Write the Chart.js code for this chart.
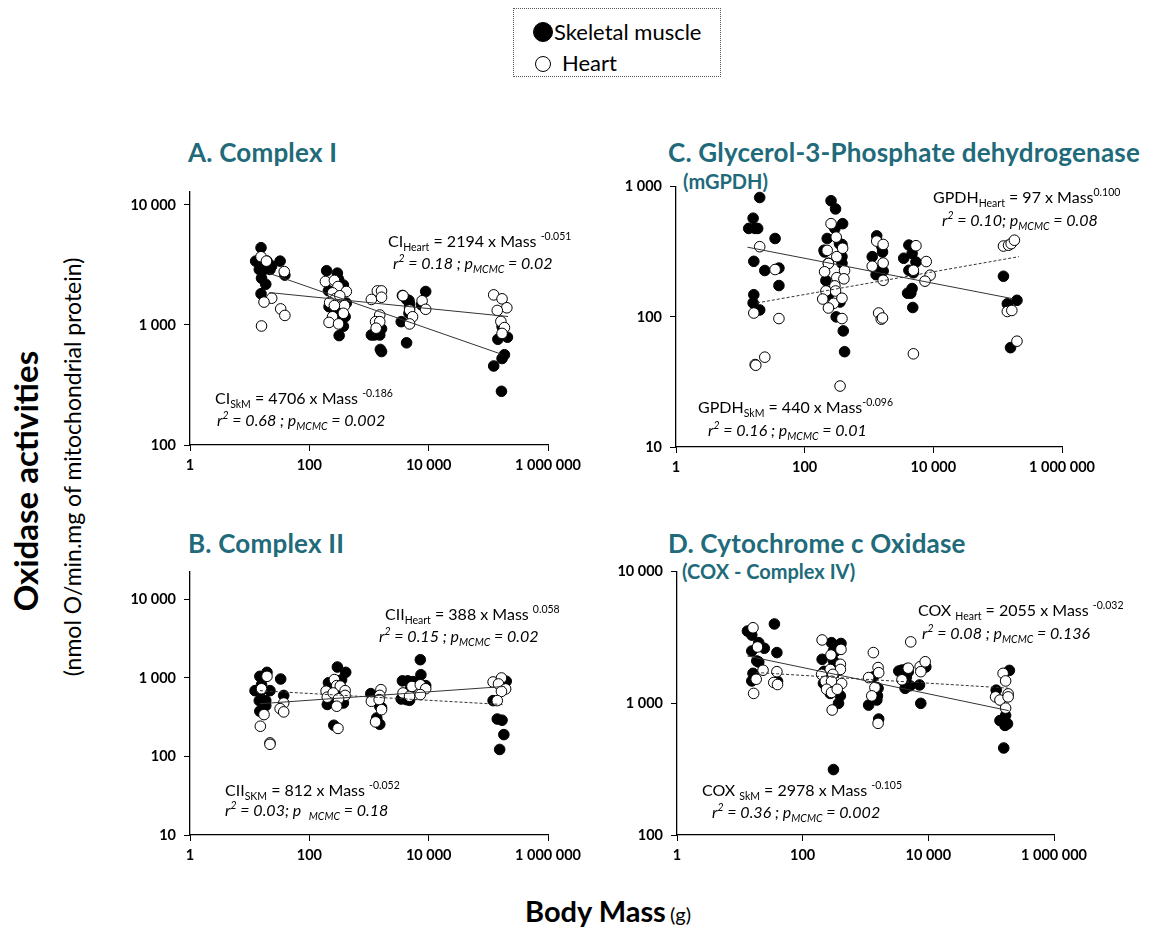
<!DOCTYPE html>
<html>
<head>
<meta charset="utf-8">
<script src="https://cdn.jsdelivr.net/npm/chart.js@4.4.1/dist/chart.umd.min.js"></script>
<style>
    body { margin: 0; background: #fff; width: 1157px; height: 934px; position: relative; overflow: hidden; font-family: Lato, 'Open Sans', sans-serif; color: #000; }
    canvas { position: absolute; }
    .t { position: absolute; white-space: nowrap; line-height: 22px; }
    .title { color: #216a7a; font-weight: bold; font-size: 26px; letter-spacing: 0.2px; line-height: 24px; }
    .subtitle { color: #216a7a; font-weight: bold; font-size: 20px; }
    .eq { font-size: 16px; }
    .eq sub, .eq sup { font-size: 10.5px; line-height: 0; }
    .eq sub { vertical-align: -4px; }
    .eq sup { vertical-align: 7px; }
    .it { font-style: italic; }
    .rot { position: absolute; white-space: nowrap; transform: translate(-50%, -50%) rotate(-90deg); }
    .legend { position: absolute; left: 513px; top: 8px; width: 206px; height: 67px; border: 1px dotted #555; font-size: 22px; }
    .dot { position: absolute; border-radius: 50%; border: 1px solid #000; box-sizing: border-box; }
</style>
</head>
<body>

<div class="legend">
    <span class="dot" style="left:19px;top:13px;width:20px;height:20px;background:#000"></span>
    <span class="t" style="left:40px;top:11px;line-height:24px">Skeletal muscle</span>
    <span class="dot" style="left:21px;top:47px;width:16px;height:16px;background:#fff"></span>
    <span class="t" style="left:48px;top:42px;line-height:24px">Heart</span>
</div>

<div class="rot" style="left:25px;top:481px;font-size:33px;font-weight:bold">Oxidase activities</div>
<div class="rot" style="left:72px;top:467px;font-size:23px">(nmol O/min.mg of mitochondrial protein)</div>
<div class="t" style="left:525px;top:893px;line-height:36px"><b style="font-size:29px">Body Mass</b> <span style="font-size:20px">(g)</span></div>

<div class="t title" style="left:188px;top:140px">A. Complex I</div>
<div class="t title" style="left:188px;top:531px">B. Complex II</div>
<div class="t title" style="left:668px;top:140px">C. Glycerol-3-Phosphate dehydrogenase</div>
<div class="t subtitle" style="left:683px;top:170px">(mGPDH)</div>
<div class="t title" style="left:668px;top:531px">D. Cytochrome c Oxidase</div>
<div class="t subtitle" style="left:682px;top:560px">(COX - Complex IV)</div>

<canvas id="chartA"></canvas>
<canvas id="chartB"></canvas>
<canvas id="chartC"></canvas>
<canvas id="chartD"></canvas>

<div class="t eq" style="left:388px;top:230px">CI<sub>Heart</sub> = 2194 x Mass <sup>-0.051</sup></div>
<div class="t eq it" style="left:393px;top:252px">r<sup>2</sup> = 0.18 ; p<sub>MCMC</sub> = 0.02</div>
<div class="t eq" style="left:215px;top:387px">CI<sub>SkM</sub> = 4706 x Mass <sup>-0.186</sup></div>
<div class="t eq it" style="left:217px;top:409px">r<sup>2</sup> = 0.68 ; p<sub>MCMC</sub> = 0.002</div>

<div class="t eq" style="left:385px;top:603px">CII<sub>Heart</sub> = 388 x Mass <sup>0.058</sup></div>
<div class="t eq it" style="left:379px;top:625px">r<sup>2</sup> = 0.15 ; p<sub>MCMC</sub> = 0.02</div>
<div class="t eq" style="left:225px;top:779px">CII<sub>SKM</sub> = 812 x Mass <sup>-0.052</sup></div>
<div class="t eq it" style="left:225px;top:799px">r<sup>2</sup> = 0.03; p &nbsp;<sub>MCMC</sub> = 0.18</div>

<div class="t eq" style="left:933px;top:186px">GPDH<sub>Heart</sub> = 97 x Mass<sup>0.100</sup></div>
<div class="t eq it" style="left:942px;top:209px">r<sup>2</sup> = 0.10; p<sub>MCMC</sub> = 0.08</div>
<div class="t eq" style="left:698px;top:396px">GPDH<sub>SkM</sub> = 440 x Mass<sup>-0.096</sup></div>
<div class="t eq it" style="left:708px;top:419px">r<sup>2</sup> = 0.16 ; p<sub>MCMC</sub> = 0.01</div>

<div class="t eq" style="left:918px;top:599px">COX <sub>Heart</sub> = 2055 x Mass <sup>-0.032</sup></div>
<div class="t eq it" style="left:922px;top:622px">r<sup>2</sup> = 0.08 ; p<sub>MCMC</sub> = 0.136</div>
<div class="t eq" style="left:702px;top:779px">COX <sub>SkM</sub> = 2978 x Mass <sup>-0.105</sup></div>
<div class="t eq it" style="left:712px;top:801px">r<sup>2</sup> = 0.36 ; p<sub>MCMC</sub> = 0.002</div>

<script>
// [body mass (g), activity]
const skmA = [
    [15.5, 4400], [12.6, 3400], [15.8, 3400], [19.5, 3400], [14.5, 2900], [17.4, 2900], [21.9, 2900],
    [23.4, 3100], [32.4, 3400], [15.8, 2450], [18.6, 2180], [15.5, 1820], [38.9, 2600],
    [195, 2830], [295, 2700], [309, 2400], [209, 1930], [372, 2150], [417, 1520], [214, 1420],
    [269, 1330], [324, 1330], [398, 1170], [295, 1170], [372, 975], [316, 815], [251, 1620],
    [1622, 930], [1318, 850], [1096, 825], [1514, 825], [1549, 625], [1622, 600], [1230, 825],
    [3631, 1760], [4266, 1630], [4677, 1600], [4786, 1500], [4786, 1390], [4677, 1250],
    [8913, 1900], [7586, 1470], [3467, 1065], [4266, 710],
    [144540, 760], [208930, 790], [186210, 565], [169820, 525], [123030, 455], [165960, 280], [169820, 970]
];
const heartA = [
    [15.5, 3700], [19.1, 3400], [38, 2780], [23.4, 1670], [17.4, 1550], [33.1, 1360], [38.9, 1200], [15.8, 980],
    [186, 2300], [263, 2350], [302, 2090], [417, 1900], [245, 1850], [275, 1660], [324, 1750], [219, 1540],
    [389, 1450], [263, 1450], [245, 1170], [214, 1050], [309, 1020], [372, 1250],
    [1380, 1920], [1622, 1920], [1096, 1630], [1622, 1700], [1514, 1210], [1288, 1065], [1514, 1065], [1318, 940],
    [3715, 1750], [4786, 1330], [5370, 1170], [4786, 1020], [7762, 1590], [8913, 1350],
    [123030, 1780], [169820, 1650], [204170, 1390], [141250, 1320], [162180, 1070], [186210, 950], [169820, 850]
];
const fitSkmA = [[21.4, 2690], [158490, 575]];
const fitHeartA = [[21.4, 1860], [213800, 1175]];

const skmB = [
    [14.8, 1050], [19.5, 1180], [15.8, 823], [12.3, 690], [15.5, 690], [21.9, 690], [14.5, 515], [18.6, 515],
    [18.6, 445], [14.8, 378], [33.1, 970], [37.2, 600],
    [295, 1380], [407, 1180], [209, 870], [251, 870], [302, 900], [347, 950], [372, 645], [200, 460],
    [288, 500], [372, 480], [257, 250],
    [1072, 632], [1380, 560], [1514, 436], [1349, 310], [1349, 280], [1514, 257], [1622, 420],
    [3631, 920], [4467, 920], [5495, 900], [3467, 540], [4266, 530], [4786, 520], [7413, 1100], [7244, 1710],
    [8913, 800], [5012, 745],
    [199530, 910], [120230, 515], [141250, 300], [169820, 290], [181970, 190], [154880, 123]
];
const heartB = [
    [19.5, 1050], [15.8, 730], [37.2, 480], [32.4, 407], [37.2, 370], [17.4, 342], [15.1, 243], [21.9, 149], [21.9, 143],
    [263, 955], [191, 680], [200, 570], [288, 800], [330, 790], [251, 645], [398, 690], [398, 600], [309, 545],
    [288, 437], [302, 228],
    [1585, 710], [1096, 505], [1514, 600], [1480, 530], [1622, 395], [1288, 276],
    [3715, 645], [4786, 585], [5248, 780], [7244, 820], [8913, 730], [7244, 615],
    [120230, 890], [165960, 1000], [147910, 840], [194980, 725], [165960, 675], [141250, 515]
];
const fitSkmB = [[14.8, 690], [186210, 458]];
const fitHeartB = [[14.8, 470], [186210, 780]];

const skmC = [
    [20, 826], [15.8, 573], [13.5, 478], [17, 478], [18.6, 478], [34.7, 400], [16.2, 267], [24, 227], [39.8, 237],
    [39.8, 174], [16.2, 148], [15.8, 128], [20, 113],
    [257, 780], [302, 675], [389, 520], [295, 478], [224, 400], [347, 365], [380, 360], [200, 325], [204, 315],
    [380, 290], [234, 258], [380, 258], [214, 190], [234, 147], [355, 130], [309, 100], [398, 78], [417, 54],
    [1318, 419], [1585, 346], [1622, 315], [1122, 290], [1585, 230], [1660, 225], [1288, 211],
    [4169, 356], [3467, 282], [4677, 307], [5370, 264], [4169, 228], [4898, 218], [3981, 152], [4467, 152],
    [4677, 165], [4786, 118],
    [123030, 205], [141250, 126], [199530, 134], [158490, 58]
];
const heartC = [
    [20, 346], [34.7, 231], [16.2, 107], [39.8, 97], [17, 43], [17.4, 42.5], [24, 49],
    [257, 520], [309, 410], [224, 324], [316, 290], [389, 337], [234, 257], [204, 222], [417, 227], [316, 200],
    [407, 196], [295, 173], [214, 158], [302, 158], [191, 137], [282, 127], [234, 117], [380, 139], [380, 97], [355, 29.4],
    [1318, 382], [1660, 360], [1660, 259], [1122, 245], [1660, 191], [1413, 107], [1549, 96], [1622, 98],
    [5370, 352], [4898, 228], [7762, 266], [8913, 209], [7413, 188], [4898, 52],
    [123030, 350], [147910, 355], [162180, 365], [181970, 388], [141250, 110], [165960, 112], [199530, 65]
];
const fitSkmC = [[12.9, 343], [169820, 138]];
const fitHeartC = [[18.2, 128], [213800, 290]];

const skmD = [
    [13.2, 3540], [15.5, 3300], [35.5, 4010], [20, 2890], [24.5, 2620], [15.5, 2500], [38.9, 2430], [18.6, 2100],
    [20, 2060], [16.2, 1690], [15.5, 1480], [39.8, 1470],
    [288, 2890], [407, 2850], [309, 2500], [330, 2480], [204, 2160], [309, 2100], [219, 1750], [234, 1720],
    [330, 1720], [214, 1420], [257, 1400], [347, 1280], [275, 1190], [398, 1140], [372, 1000], [309, 314],
    [1334, 1590], [1514, 1320], [1585, 1300], [1549, 1140], [1514, 1060], [1122, 970], [1622, 760],
    [3388, 1760], [3802, 1790], [4467, 1820], [4786, 1730], [4266, 1600], [4467, 1580], [5129, 1360], [4266, 1300],
    [7244, 1380], [9120, 1890], [7586, 1000],
    [194980, 1780], [120230, 1260], [169820, 810], [138040, 740], [181970, 700], [165960, 680], [158490, 458]
];
const heartD = [
    [16.2, 3750], [19.1, 2680], [23.4, 1785], [38.9, 1740], [18.2, 1525], [34.7, 1440], [39.8, 1390], [16.6, 1190],
    [204, 3030], [282, 2330], [407, 2570], [398, 1980], [398, 1810], [275, 1810], [200, 1660], [302, 1660],
    [229, 1470], [288, 1470], [417, 1415], [240, 1280], [288, 1210], [355, 1280], [295, 890],
    [1334, 2430], [1585, 1870], [1622, 1710], [1122, 1570], [1413, 1320], [1259, 1140], [1585, 705],
    [5248, 2930], [3802, 1510], [4786, 1850], [7413, 1900], [7586, 1740], [8913, 2070],
    [154880, 1690], [169820, 1480], [117490, 1120], [138040, 1060], [186210, 1180], [186210, 1120], [169820, 920]
];
const fitSkmD = [[13.2, 2290], [190550, 880]];
const fitHeartD = [[18.2, 1715], [186210, 1305]];

const massTicks = [1, 100, 10000, 1000000];
const fmt = v => String(v).replace(/\B(?=(\d{3})+(?!\d))/g, ' ');

const points = (data, fill, order) => ({
    data: data.map(([x, y]) => ({ x, y })),
    pointRadius: 5.3,
    pointBackgroundColor: fill,
    pointBorderColor: '#000',
    pointBorderWidth: 1,
    showLine: false,
    order
});

const fitLine = (data, dashed) => ({
    data: data.map(([x, y]) => ({ x, y })),
    showLine: true,
    borderColor: '#333',
    borderWidth: 1,
    borderDash: dashed ? [3, 2] : [],
    pointRadius: 0,
    fill: false,
    order: 0
});

const axisStyle = {
    grid: { drawOnChartArea: false, tickLength: 6, color: '#000', lineWidth: 1 },
    border: { color: '#000', width: 1.3 }
};
const tickFont = { family: 'Lato', size: 14.5, weight: 'bold' };

function makePanel(id, box, area, yMin, yMax, yTicks, skm, heart, fitSkm, fitHeart, skmDashed, heartDashed) {
    const cv = document.getElementById(id);
    cv.width = box.w;
    cv.height = box.h;
    cv.style.left = box.x + 'px';
    cv.style.top = box.y + 'px';

    new Chart(cv.getContext('2d'), {
        type: 'scatter',
        data: {
            datasets: [
                fitLine(fitSkm, skmDashed),
                fitLine(fitHeart, heartDashed),
                points(heart, '#fff', 1),
                points(skm, '#000', 2)
            ]
        },
        options: {
            responsive: false,
            animation: false,
            layout: {
                padding: {
                    left: 0,
                    top: area.top - box.y,
                    right: box.x + box.w - area.right,
                    bottom: box.y + box.h - area.bottom - 30
                }
            },
            plugins: { legend: { display: false }, tooltip: { enabled: false } },
            scales: {
                x: {
                    type: 'logarithmic',
                    min: 1,
                    max: 1000000,
                    afterBuildTicks: s => { s.ticks = massTicks.map(value => ({ value })); },
                    afterFit: s => { s.height = 30; },
                    ticks: { callback: v => fmt(v), color: '#000', font: tickFont, padding: 6, maxRotation: 0, autoSkip: false },
                    ...axisStyle
                },
                y: {
                    type: 'logarithmic',
                    min: yMin,
                    max: yMax,
                    afterBuildTicks: s => { s.ticks = yTicks.map(value => ({ value })); },
                    afterFit: s => { s.width = area.left - box.x; },
                    ticks: { callback: v => fmt(v), color: '#000', font: tickFont, padding: 8, autoSkip: false },
                    ...axisStyle
                }
            }
        }
    });
}

makePanel('chartA', { x: 90, y: 170, w: 520, h: 320 }, { left: 190, right: 548, top: 192, bottom: 445 },
    100, 12800, [100, 1000, 10000], skmA, heartA, fitSkmA, fitHeartA, false, false);
makePanel('chartB', { x: 90, y: 555, w: 520, h: 320 }, { left: 190, right: 548, top: 570, bottom: 835 },
    10, 22600, [10, 100, 1000, 10000], skmB, heartB, fitSkmB, fitHeartB, true, false);
makePanel('chartC', { x: 576, y: 170, w: 560, h: 320 }, { left: 676, right: 1062, top: 182, bottom: 447 },
    10, 1000, [10, 100, 1000], skmC, heartC, fitSkmC, fitHeartC, false, true);
makePanel('chartD', { x: 577, y: 555, w: 560, h: 320 }, { left: 677, right: 1054, top: 570, bottom: 835 },
    100, 10000, [100, 1000, 10000], skmD, heartD, fitSkmD, fitHeartD, false, true);
</script>
</body>
</html>
